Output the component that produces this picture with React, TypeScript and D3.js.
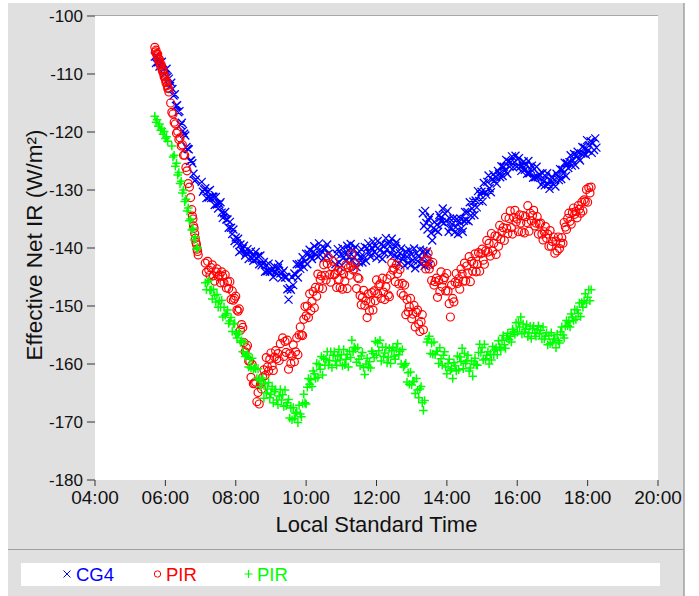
import * as d3 from 'd3'

type Segment = { start: string; step: number; values: (number | null)[] }

// CG4 (blue crosses), read every 2 minutes
const cg4Morning: Segment = {
  start: '05:42', step: 2,
  values: [
    -107.0, -108.1, -107.0, -108.0, -108.7, -108.1, -107.9, -109.3, -110.0, -109.3,
    -109.1, -110.5, -110.8, -112.1, -111.5, -112.6, -113.7, -113.5, -115.5, -115.4,
    -116.6, -116.4, -118.8, -118.4, -119.8, -120.3, -120.6, -122.6, -122.9, -123.0,
    -125.0, -124.9, -125.4, -127.2, -128.4, -128.2, null, null, null, null,
    -128.6, -130.3, -129.9, -129.7, -131.4, -130.3, -131.3, -130.0, -131.4, -131.1,
    -131.2, -132.6, -131.2, -132.5, -133.2, -132.4, -132.1, -133.9, -134.8, -134.0,
    -133.8, -135.1, -135.1, -136.5, -135.5, -136.5, -137.6, -136.8, -138.8, -138.2,
    -139.2, -138.4, -140.7, -139.4, -140.4, -140.1, -139.6, -141.3, -140.9, -140.2,
    -141.9, -140.8, -140.6, -141.7, -142.2, -141.4, -140.7, -141.9, -141.4, -142.8,
    -141.3, -143.0, -142.7, -142.4, -144.1, -143.0, -144.0, -142.7, -144.1, -143.8,
    -143.9, -145.0, -143.2, -144.1, -144.5, -143.4, -142.8, -144.4, -145.2, -144.2,
    -143.9, -145.1, -145.0, -147.1, -148.9, -146.9, -147.2, -145.0, -146.4, -144.4,
    -144.6, -142.8, -145.1, -142.8, -143.6, -142.7, -141.6, -143.3, -142.3, -141.0,
    -142.8, -141.0, -140.3, -141.5, -141.9, -140.7, -139.7, -141.0, -140.1, -141.5,
    -139.2, -141.2, -140.5, -139.8, -141.8, -140.1, -141.3, -139.4, -141.0, null,
    null, null, null, null, -142.8, -141.0, -140.2, -142.5, -143.3, -141.1,
    -140.0, -141.6, -140.9, -142.3, -139.6, -140.4, -141.4, -139.3, -142.1, -140.4,
    -141.6, -139.8, -143.3, -140.9, -142.5, -141.6, -140.2, -142.5, -141.4, -139.8,
    -142.2, -140.0, -139.2, -140.9, -141.5, -140.0, -138.9, -140.7, -139.7, -141.7,
    -138.8, -141.4, -140.4, -139.4, -141.9, -139.6, -140.9, -138.3, -140.2, -139.3,
    -139.0, -141.1, -138.4, -140.3, -141.3, -139.6, -139.0, -141.6, -142.7, -140.9,
    -140.1, -141.9, -141.4, -143.0, -140.6, -141.5, -142.6, -140.4, -143.0, -141.1,
    -142.1, -140.1, -143.5, -140.9, -142.3, -141.5, -140.3, -142.8, -141.9, -140.5,
    -143.1, -141.1, -140.6, -142.3, -142.9,
  ],
}
const cg4Afternoon: Segment = {
  start: '13:19', step: 2,
  values: [
    -134.0, -136.2, -133.6, -135.7, -136.8, -135.2, -134.7, -137.4, -138.7, -136.6,
    -135.5, -136.9, -136.0, -137.2, -134.3, -134.8, -135.5, -133.2, -135.7, -134.1,
    -135.3, -133.6, -137.2, -134.9, -136.5, -135.9, -134.9, -137.3, -136.4, -135.0,
    -137.6, -135.5, -134.9, -136.6, -137.2, -135.3, -133.8, -135.2, -133.8, -135.4,
    -132.1, -134.4, -133.2, -132.0, -134.3, -131.8, -133.0, -130.2, -131.9, -130.8,
    -130.3, -132.0, -128.8, -130.3, -130.8, -128.6, -127.5, -129.7, -130.4, -128.2,
    -127.3, -128.4, -127.8, -128.9, -126.7, -127.2, -127.8, -125.9, -127.6, -126.0,
    -126.6, -124.8, -127.2, -125.1, -126.0, -125.2, -124.2, -126.1, -125.2, -124.1,
    -126.0, -124.7, -124.5, -126.0, -126.7, -125.8, -125.1, -126.5, -125.7, -127.2,
    -125.0, -127.1, -126.4, -125.8, -127.9, -126.4, -127.8, -126.0, -127.8, -127.3,
    -127.4, -129.1, -127.1, -128.5, -129.2, -127.7, -127.1, -129.0, -129.8, -128.3,
    -127.7, -128.9, -128.3, -129.4, -127.2, -127.7, -128.3, -126.4, -128.1, -126.5,
    -127.1, -125.3, -127.6, -125.4, -126.2, -125.2, -124.0, -125.8, -124.9, -123.8,
    -125.7, -124.0, -123.4, -124.6, -124.9, -123.7, -122.6, -123.7, -122.7, -123.9,
    -121.4, -123.2, -122.3, -121.6, -123.6, -121.9, -123.1, -121.1, -122.7,
  ],
}

// PIR (red circles)
const pirRedA: Segment = {
  start: '05:42', step: 1,
  values: [
    -105.4, -106.2, -105.9, -106.5, -106.9, -106.6, -107.3, -107.8, -107.5, -108.2,
    -108.6, -108.4, -109.1, -109.5, -109.3, -110.0, -110.5, -110.4, -111.0, -111.5,
    -111.3, -112.0, -112.5, -112.4, -113.1,
  ],
}
const pirRedB: Segment = {
  start: '06:09', step: 2,
  values: [
    -115.0, -116.6, -116.9, -118.3, -118.6, -120.2, -119.9, -121.3, -121.0, -122.4,
    -122.2, -124.0, -124.0, -126.1, -126.7, -128.9, -129.5, -131.3,
  ],
}
const pirRedC: Segment = {
  start: '06:45', step: 1,
  values: [-133.4, -134.5, -135.0, -136.2, -136.6, -137.5, -138.3, -139.0, -139.4, -140.2, -140.6, -141.2],
}
const pirRedD: Segment = {
  start: '07:08', step: 2,
  values: [
    -142.6, -144.2, -142.3, -143.8, -144.7, -143.4, -142.9, -144.8, -145.7, -144.1,
    -143.6, -144.9, -144.7, -146.0, -144.1, -144.9, -146.0, -144.6, -146.9, -145.8,
    -147.0, -145.8, -148.9, -147.4, -149.0, -148.7, -148.3, -150.7, -150.9, -150.5,
    -154.2, -153.2, -153.7, -156.3, -157.9, -157.2, -156.8, -159.5, -159.5, -162.3,
    -160.1, -163.4, -163.3, -163.1, -166.5, -164.9, -166.9, -163.5, -164.3, -162.3,
    -161.0, -162.0, -158.9, -160.5, -161.2, -159.2, -158.1, -160.3, -161.1, -158.8,
    -157.7, -159.1, -158.2, -159.4, -156.5,
  ],
}
const pirRedE: Segment = {
  start: '09:20', step: 2,
  values: [
    -155.5, -158.7, -156.1, -158.0, -155.9, -160.9, -158.2, -159.9, -158.6, -156.7,
    -159.6, -157.9, -155.5, -158.4, -155.0, -153.6, -155.0, -155.1, -152.3, -150.1,
    -151.7, -150.0, -152.0, -147.9, -150.8, -149.2, -147.5, -150.3, -146.8, -148.3,
    -144.5, -146.9, -145.4, -144.8, -147.0, -142.9, -144.7, -145.5, -142.7, -141.6,
    -144.6, -145.9, -143.2, -142.3, -144.6, -144.4, -146.8, -143.9, -145.4, -146.8,
    -143.9, -147.1, -144.5, -145.7, -142.9, -147.0, -143.4, -144.7, -143.1, -141.0,
    -143.8, -143.6, -142.7, -147.0, -145.1, -145.3, -148.2, -149.8, -148.5, -147.3,
    -149.9, -149.1, -152.0, -147.9, -150.8, -149.3, -147.7, -150.7, -147.4, -149.1,
    -145.5, -147.9, -146.5, -146.2, -148.7, -145.2, -147.6, -148.9, -146.7, -145.3,
    -148.1, -148.4, -144.7, -142.6, -143.8, -143.5, -145.8, -142.9, -144.4, -146.2,
    -143.7, -147.8, -146.1, -148.2, -146.4, -151.5, -148.9, -151.0, -150.1, -148.7,
    -152.2, -151.4, -149.9, -153.6, -151.1, -150.7, -153.1, -154.4, -152.7, -151.5,
    -154.1,
  ],
}
const pirRedF: Segment = {
  start: '13:22', step: 2,
  values: [
    -142.2, -143.6, -142.0, -140.9, -143.6, -142.8, -145.6, -142.5, -146.4, -145.8,
    -145.2, -148.5, -145.6, -147.5, -144.1, -146.7, -145.5, -145.1, -147.4, -144.4,
    -147.4, -149.6, -151.9, -146.4, -148.7, -149.3, -145.9, -144.4, -146.1, -145.3,
    -147.1, -143.6, -144.5, -145.7, -142.6, -145.7, -143.1, -144.3, -141.5, -145.8,
    -142.3, -144.0, -142.7, -141.0, -144.1, -142.8, -140.8, -144.0, -141.0, -140.2,
    -142.1, -142.8, -140.5, -138.7, -140.7, -139.2, -141.4, -137.5, -140.5, -139.2,
    -137.9, -141.1, -138.0, -139.7, -136.1, -138.5, -137.1, -136.5, -138.7, -134.7,
    -136.6, -137.5, -134.9, -133.6, -136.5, -137.6, -134.7, -133.5, -135.5, -135.0,
    -137.2, -134.3, -135.7, -137.2, -134.4, -137.4, -134.6, -135.6, -132.7, -137.1,
    -134.0, -135.3, -134.4, -133.5, -136.2, -135.7, -134.6, -137.6, -135.9, -135.7,
    -137.6, -138.6, -137.2, -136.3, -138.3, -137.6, -139.7, -137.0, -139.7, -138.9,
    -138.1, -140.9, -138.8, -140.5, -138.1, -140.1, -139.2, -138.2, -139.2, -135.6,
    -136.4, -136.8, -134.9, -134.0, -135.4, -135.9, -133.9, -133.1, -134.2, -133.7,
    -134.8, -132.7, -133.3, -134.0, -132.1, -133.6, -131.7, -132.0, -129.9, -132.1,
    -129.6, -130.5, -129.5,
  ],
}

// PIR (green pluses)
const pirGreenA: Segment = {
  start: '05:42', step: 2,
  values: [-117.3, -118.3, -117.9, -119.0, -118.6, -119.7, -119.4, -120.4, -119.9, -121.1, -120.8, -121.6],
}
const pirGreenB: Segment = {
  start: '06:11', step: 2,
  values: [
    -122.4, -124.3, -124.0, -125.9, -125.4, -127.4, -127.0, -128.9, -128.5, -130.5,
    -130.0, -132.0, -131.6, -133.6, -133.1, -135.3, -135.0, -136.9, -136.6, -138.6,
    -138.1, -140.2, -139.9,
  ],
}
const pirGreenC: Segment = {
  start: '07:08', step: 2,
  values: [
    -146.0, -147.2, -145.9, -145.6, -147.3, -147.2, -148.8, -147.1, -148.2, -149.3,
    -148.0, -150.2, -149.1, -150.2, -149.0, -151.9, -150.2, -151.6, -151.3, -150.7,
    -153.0, -152.6, -152.0, -154.4, -153.1, -153.0, -154.7, -155.5, -154.9, -154.5,
    -156.3, -156.0, -157.9, -156.2, -158.7, -158.5, -158.2, -160.5, -159.2, -160.7,
    -159.0, -160.9, -160.6, -160.8, -162.5, -160.8, -162.6, -163.9, -162.9,
  ],
}
const pirGreenD: Segment = {
  start: '08:46', step: 2,
  values: [
    -162.4, -165.9, -163.4, -165.0, -164.3, -163.2, -165.8, -165.2, -163.9, -166.7,
    -164.8, -164.4, -166.2, -167.0, -165.5, -164.4, -166.2, -165.3, -167.3, -164.5,
    -167.2, -166.7, -166.1, -169.3, -167.6, -169.6, -167.5, -169.4, -168.5, -168.3,
    -170.1, -167.1, -168.6, -169.1, -166.8, -165.2, -166.7, -166.9, -164.0, -162.5,
    -163.5, -162.7, -163.9, -161.2, -161.7, -162.5, -159.9, -162.3, -160.1, -160.9,
    -158.7, -161.9, -159.0, -160.2, -159.2, -157.9, -160.2, -159.4, -157.9, -160.6,
    -158.5, -157.9, -159.5, -160.2, -158.6, -157.5, -159.3, -158.4, -160.3, -157.5,
    -160.1, -159.2, -158.3, -160.5, -157.8, -158.9, -155.9, -157.9, -157.1, -157.4,
    -159.7, -157.2, -159.2, -160.3, -158.6, -158.0, -160.6, -161.8, -160.0, -159.0,
    -160.5, -159.6, -160.7, -157.8, -158.2, -158.9, -156.1, -158.5, -156.4, -157.7,
    -155.9, -159.5, -157.1, -158.7, -158.1, -157.1, -159.8, -158.9, -157.3, -159.9,
    -157.7, -157.1, -158.6, -159.2, -157.4, -156.5, -158.4, -157.8, -160.0, -157.5,
    -160.5, -160.2, -159.9, -163.1, -161.5, -163.5, -161.4, -163.6, -163.0, -163.0,
    -165.1, -162.5, -164.5, -165.8, -164.3, -163.9, -166.7, -168.0, -166.3,
  ],
}
const pirGreenE: Segment = {
  start: '13:26', step: 2,
  values: [
    -156.2, -155.7, -155.2, -158.2, -156.4, -158.3, -156.2, -158.4, -157.8, -157.8,
    -159.9, -157.2, -159.1, -160.2, -158.5, -157.9, -160.5, -161.7, -159.9, -159.2,
    -161.1, -160.8, -162.5, -159.8, -160.3, -161.2, -158.6, -161.0, -158.8, -159.6,
    -157.3, -160.8, -158.2, -159.9, -159.4, -158.5, -161.2, -160.7, -159.5, -162.1,
    -160.0, -159.0, -160.1, -160.2, -158.0, -156.6, -158.0, -157.2, -159.3, -156.6,
    -159.1, -158.5, -157.9, -160.0, -158.3, -159.3, -157.0, -158.4, -157.5, -157.2,
    -158.4, -156.0, -157.1, -157.6, -155.9, -155.1, -156.7, -157.3, -155.5, -154.7,
    -155.8, -155.2, -156.2, -154.0, -154.4, -154.9, -152.9, -154.5, -152.8, -153.6,
    -151.9, -154.8, -153.1, -154.5, -154.0, -153.2, -155.3, -154.6, -153.5, -155.6,
    -153.9, -153.5, -154.7, -155.2, -154.1, -153.4, -154.8, -154.2, -155.7, -153.6,
    -155.7, -155.2, -154.6, -156.7, -155.1, -156.5, -154.6, -156.3, -155.7, -155.7,
    -157.2, -154.9, -156.0, -156.4, -154.5, -153.6, -155.0, -155.5, -153.5, -152.5,
    -153.4, -152.7, -153.6, -151.4, -151.9, -152.5, -150.6, -152.3, -150.7, -151.3,
    -149.5, -151.8, -149.4, -150.2, -149.1, -147.9, -149.5, -148.5, -147.2, -149.1,
    -147.2,
  ],
}

const yTicks = [-100, -110, -120, -130, -140, -150, -160, -170, -180]
const xTickLabels = ['04:00', '06:00', '08:00', '10:00', '12:00', '14:00', '16:00', '18:00', '20:00']
const legendLabels = ['CG4', 'PIR', 'PIR']

const FONT = '"Liberation Sans", Arial, sans-serif'

const toMin = (s: string) => +s.slice(0, 2) * 60 + +s.slice(3, 5)

const points = (segs: Segment[]) =>
  segs.flatMap(seg =>
    seg.values
      .map((v, i) => ({ t: toMin(seg.start) + i * seg.step, v }))
      .filter(p => p.v !== null) as { t: number; v: number }[]
  )

export default function App() {
  const margin = { left: 95, right: 658, top: 16, bottom: 480 }

  const x = d3.scaleLinear()
    .domain([toMin(xTickLabels[0]), toMin(xTickLabels[xTickLabels.length - 1])])
    .range([margin.left, margin.right])
  const y = d3.scaleLinear()
    .domain([d3.min(yTicks)!, d3.max(yTicks)!])
    .range([margin.bottom, margin.top])

  const blue = points([cg4Morning, cg4Afternoon])
  const red = points([pirRedA, pirRedB, pirRedC, pirRedD, pirRedE, pirRedF])
  const green = points([pirGreenA, pirGreenB, pirGreenC, pirGreenD, pirGreenE])

  // marker half-sizes
  const s = 4
  const crossPath = blue
    .map(d => {
      const cx = x(d.t), cy = y(d.v)
      return `M${cx - s},${cy - s}L${cx + s},${cy + s}M${cx - s},${cy + s}L${cx + s},${cy - s}`
    })
    .join('')
  const p = 4.3
  const plusPath = green
    .map(d => {
      const cx = x(d.t), cy = y(d.v)
      return `M${cx - p},${cy}H${cx + p}M${cx},${cy - p}V${cy + p}`
    })
    .join('')

  return (
    <svg width={699} height={596} style={{ position: 'absolute', left: 0, top: 0, fontFamily: FONT }}>
      <rect x={0} y={0} width={699} height={596} fill="#ffffff" />
      <rect x={8} y={3} width={676} height={593} fill="#e0e0e0" />
      <line x1={684} x2={684} y1={3} y2={596} stroke="#a0a0a0" strokeWidth={1.5} />
      <line x1={8} x2={684} y1={549.5} y2={549.5} stroke="#a0a0a0" strokeWidth={1.2} />

      {/* plot area */}
      <rect x={margin.left} y={margin.top} width={margin.right - margin.left} height={margin.bottom - margin.top} fill="#ffffff" />
      <line x1={margin.left} x2={margin.right} y1={margin.top - 0.5} y2={margin.top - 0.5} stroke="#a8a8a8" strokeWidth={1} />

      {/* y axis */}
      {yTicks.map(t => (
        <g key={t} transform={`translate(0,${y(t)})`}>
          <line x1={87} x2={95} y1={0} y2={0} stroke="#333" strokeWidth={1} />
          <text x={83} y={0} dy="0.36em" textAnchor="end" fontSize={17} fill="#111">{t}</text>
        </g>
      ))}
      <text transform={`translate(42,${(margin.top + margin.bottom) / 2 - 3}) rotate(-90)`} textAnchor="middle" fontSize={22.5} fill="#111">
        Effective Net IR (W/m²)
      </text>

      {/* x axis */}
      {xTickLabels.map(l => (
        <g key={l} transform={`translate(${x(toMin(l))},0)`}>
          <line x1={0} x2={0} y1={480} y2={486} stroke="#333" strokeWidth={1} />
          <text x={0} y={503.5} textAnchor="middle" fontSize={19} fill="#111">{l}</text>
        </g>
      ))}
      <text x={(margin.left + margin.right) / 2} y={532} textAnchor="middle" fontSize={22} fill="#111">
        Local Standard Time
      </text>

      {/* data */}
      <path d={crossPath} stroke="#0000ff" strokeWidth={1.3} fill="none" />
      {red.map((d, i) => (
        <circle key={i} cx={x(d.t)} cy={y(d.v)} r={4} fill="none" stroke="#ff0000" strokeWidth={1.2} />
      ))}
      <path d={plusPath} stroke="#00ff00" strokeWidth={1.5} fill="none" />

      {/* legend */}
      <rect x={21} y={563} width={639} height={23} fill="#ffffff" />
      <g>
        <path d="M63.5,570.5L70.5,577.5M63.5,577.5L70.5,570.5" stroke="#0000ff" strokeWidth={1} />
        <text x={76} y={580.5} fontSize={18.5} fill="#0000ff">{legendLabels[0]}</text>
        <circle cx={157.5} cy={574} r={3.2} fill="none" stroke="#ff0000" strokeWidth={1} />
        <text x={166} y={580.5} fontSize={18.5} fill="#ff0000">{legendLabels[1]}</text>
        <path d="M244.5,574H252.5M248.5,570V578" stroke="#00ff00" strokeWidth={1.2} />
        <text x={257} y={580.5} fontSize={18.5} fill="#00ff00">{legendLabels[2]}</text>
      </g>
    </svg>
  )
}
